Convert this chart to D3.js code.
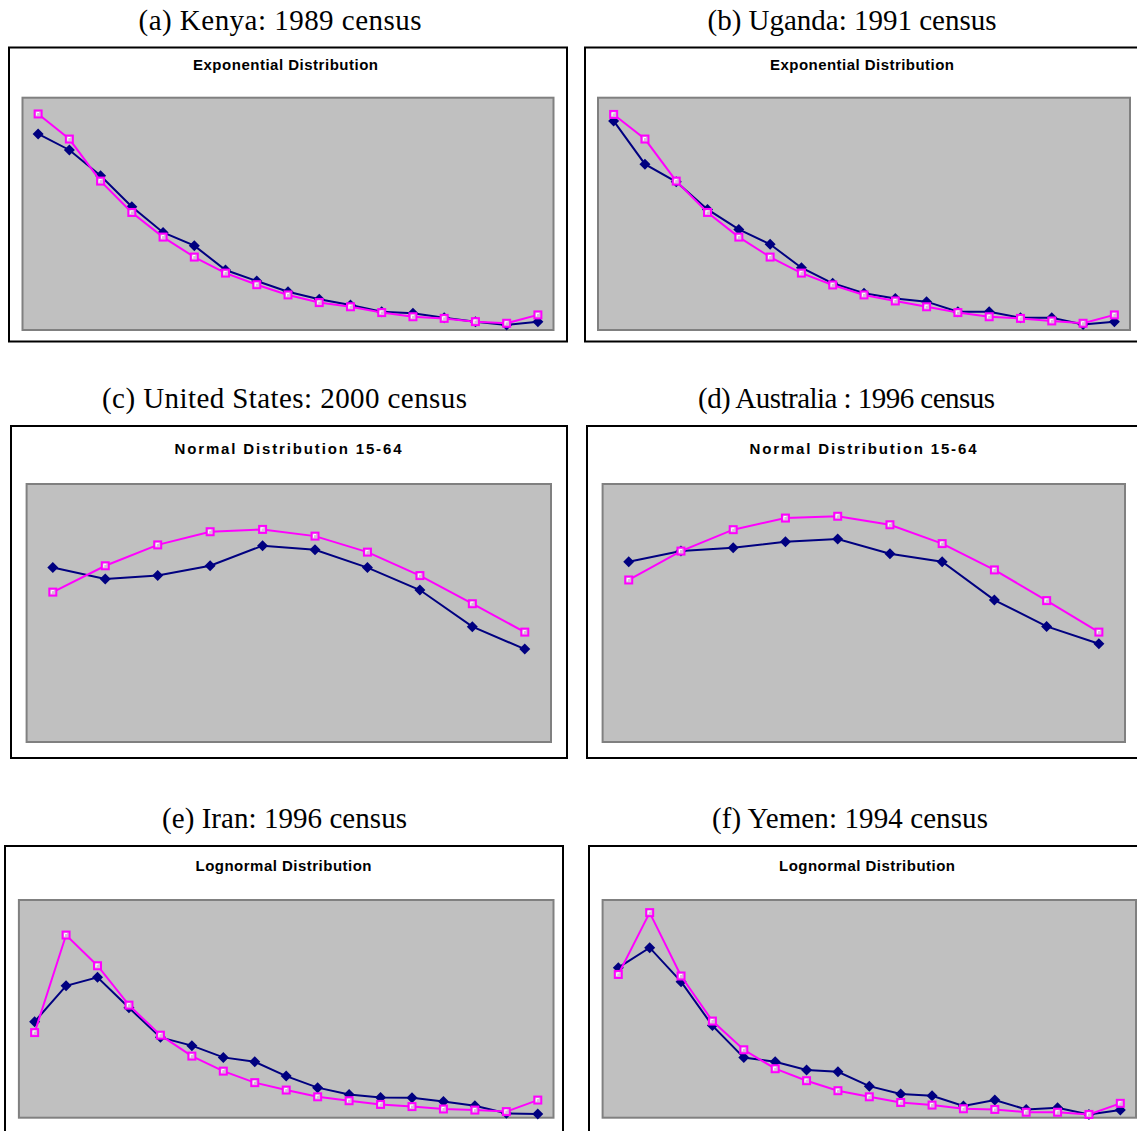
<!DOCTYPE html>
<html>
<head>
<meta charset="utf-8">
<script src="https://cdn.jsdelivr.net/npm/d3@7"></script>
<style>
  html, body { margin: 0; padding: 0; background: #ffffff; }
  svg { display: block; }
</style>
</head>
<body>
<svg id="chart" width="1137" height="1131"></svg>
<script>
// ---------------- DATA (y in % of plot height) ----------------
const panelCaptions = [
  "(a) Kenya: 1989 census",
  "(b) Uganda: 1991 census",
  "(c) United States: 2000 census",
  "(d) Australia : 1996 census",
  "(e) Iran: 1996 census",
  "(f) Yemen: 1994 census"
];
const chartTitles = [
  "Exponential Distribution",
  "Exponential Distribution",
  "Normal Distribution 15-64",
  "Normal Distribution 15-64",
  "Lognormal Distribution",
  "Lognormal Distribution"
];

// age groups
const ageGroupsAll = ["0-4","5-9","10-14","15-19","20-24","25-29","30-34","35-39","40-44",
                      "45-49","50-54","55-59","60-64","65-69","70-74","75-79","80+"];
const ageGroupsWorking = ["15-19","20-24","25-29","30-34","35-39","40-44","45-49","50-54","55-59","60-64"];

// (a) Kenya
const kenyaObserved = [84.4, 77.5, 66.4, 53.1, 42.0, 36.3, 25.8, 21.1, 16.5, 13.2, 10.8, 7.9, 7.2, 5.3, 3.6, 2.2, 3.6];
const kenyaFitted   = [93.0, 82.2, 64.1, 50.6, 40.0, 31.4, 24.5, 19.5, 15.1, 11.8, 10.0, 7.5, 5.7, 5.0, 3.6, 2.9, 6.5];
// (b) Uganda
const ugandaObserved = [90.0, 71.4, 63.8, 51.9, 43.3, 36.9, 26.8, 20.1, 15.8, 13.6, 12.2, 7.9, 7.9, 5.3, 5.3, 2.4, 3.6];
const ugandaFitted   = [92.8, 82.2, 64.1, 50.6, 40.0, 31.4, 24.5, 19.4, 15.1, 12.5, 10.0, 7.5, 5.7, 5.0, 3.9, 2.9, 6.5];
// (c) United States
const usObserved = [67.6, 63.2, 64.5, 68.3, 76.1, 74.5, 67.6, 58.9, 44.7, 36.0];
const usFitted   = [58.1, 68.3, 76.4, 81.5, 82.4, 79.8, 73.6, 64.5, 53.6, 42.6];
// (d) Australia
const ausObserved = [69.9, 74.0, 75.3, 77.6, 78.7, 73.0, 69.9, 55.0, 44.8, 38.1];
const ausFitted   = [62.8, 74.0, 82.3, 86.8, 87.5, 84.2, 76.9, 66.7, 54.8, 42.6];
// (e) Iran
const iranObserved = [44.1, 60.6, 64.5, 50.5, 36.9, 33.1, 27.7, 25.7, 19.1, 13.8, 10.7, 9.3, 9.2, 7.4, 5.5, 2.0, 1.7];
const iranFitted   = [39.1, 83.9, 69.8, 51.7, 37.9, 28.3, 21.4, 16.1, 12.7, 9.6, 7.8, 6.1, 5.1, 4.0, 3.5, 2.8, 8.1];
// (f) Yemen
const yemenObserved = [68.9, 78.1, 62.5, 42.3, 27.6, 25.7, 21.9, 21.1, 14.5, 10.9, 10.1, 5.4, 8.1, 3.8, 4.6, 1.5, 3.5];
const yemenFitted   = [65.8, 94.2, 65.1, 44.4, 31.2, 22.5, 17.0, 12.4, 9.6, 7.0, 5.8, 4.1, 3.8, 2.5, 2.5, 1.5, 6.6];

const yDomain = [0, 100];

// ---------------- LAYOUT ----------------
const layout = [
  { cat: ageGroupsAll, obs: kenyaObserved, fit: kenyaFitted,
    capX: 280, capY: 30, capW: 283,
    frame: [9, 47.5, 558, 294], plot: [22.5, 97.7, 553.5, 330], titleX: 285.5, titleY: 70, titleW: 185 },
  { cat: ageGroupsAll, obs: ugandaObserved, fit: ugandaFitted,
    capX: 852, capY: 30, capW: 289,
    frame: [585, 47.5, 600, 294], plot: [598, 97.7, 1130, 330], titleX: 862, titleY: 70, titleW: 184 },
  { cat: ageGroupsWorking, obs: usObserved, fit: usFitted,
    capX: 284.5, capY: 408, capW: 365,
    frame: [11, 426, 556, 332], plot: [26.6, 484, 551, 742], titleX: 288, titleY: 454, titleW: 227 },
  { cat: ageGroupsWorking, obs: ausObserved, fit: ausFitted,
    capX: 846.5, capY: 408, capW: 297,
    frame: [587, 426, 600, 332], plot: [602.6, 484, 1125, 742], titleX: 863, titleY: 454, titleW: 227 },
  { cat: ageGroupsAll, obs: iranObserved, fit: iranFitted,
    capX: 284.5, capY: 828, capW: 245,
    frame: [5, 846, 558, 400], plot: [18.9, 900, 553.5, 1117.7], titleX: 283.5, titleY: 871, titleW: 176 },
  { cat: ageGroupsAll, obs: yemenObserved, fit: yemenFitted,
    capX: 850, capY: 828, capW: 276,
    frame: [589, 846, 600, 400], plot: [602.6, 900, 1136, 1117.7], titleX: 867, titleY: 871, titleW: 176 }
];

const NAVY = "#000080", PINK = "#ff00ff";
const svg = d3.select("#chart");
svg.append("rect").attr("width", 1137).attr("height", 1131).attr("fill", "#fff");

layout.forEach((p, i) => {
  const g = svg.append("g");

  // caption
  g.append("text")
    .attr("x", p.capX).attr("y", p.capY)
    .attr("text-anchor", "middle")
    .attr("font-family", "'Liberation Serif', 'Times New Roman', serif")
    .attr("font-size", 29)
    .attr("textLength", p.capW).attr("lengthAdjust", "spacing")
    .attr("fill", "#000")
    .text(panelCaptions[i]);

  // frame
  g.append("rect")
    .attr("x", p.frame[0]).attr("y", p.frame[1])
    .attr("width", p.frame[2]).attr("height", p.frame[3])
    .attr("fill", "#fff").attr("stroke", "#000").attr("stroke-width", 2);

  // chart title
  g.append("text")
    .attr("x", p.titleX).attr("y", p.titleY)
    .attr("text-anchor", "middle")
    .attr("font-family", "'Liberation Sans', Arial, sans-serif")
    .attr("font-weight", "bold")
    .attr("font-size", 15)
    .attr("textLength", p.titleW).attr("lengthAdjust", "spacing")
    .attr("fill", "#000")
    .text(chartTitles[i]);

  const [x0, y0, x1, y1] = p.plot;
  // plot area
  g.append("rect")
    .attr("x", x0).attr("y", y0).attr("width", x1 - x0).attr("height", y1 - y0)
    .attr("fill", "#c0c0c0").attr("stroke", "#808080").attr("stroke-width", 2);

  const x = d3.scaleBand().domain(p.cat).range([x0, x1]).padding(0);
  const y = d3.scaleLinear().domain(yDomain).range([y1, y0]);
  const cx = d => x(d) + x.bandwidth() / 2;

  const line = d3.line().x(d => cx(d[0])).y(d => y(d[1]));
  const obsPts = p.cat.map((c, k) => [c, p.obs[k]]);
  const fitPts = p.cat.map((c, k) => [c, p.fit[k]]);

  // observed (navy, diamonds)
  g.append("path").datum(obsPts)
    .attr("d", line).attr("fill", "none").attr("stroke", NAVY).attr("stroke-width", 2);
  g.selectAll(null).data(obsPts).enter().append("path")
    .attr("d", d => {
      const px = cx(d[0]), py = y(d[1]), r = 5.5;
      return `M${px},${py - r}L${px + r},${py}L${px},${py + r}L${px - r},${py}Z`;
    })
    .attr("fill", NAVY);

  // fitted (magenta, squares)
  g.append("path").datum(fitPts)
    .attr("d", line).attr("fill", "none").attr("stroke", PINK).attr("stroke-width", 2);
  const sq = g.selectAll(null).data(fitPts).enter().append("g")
    .attr("transform", d => `translate(${cx(d[0])},${y(d[1])})`);
  sq.append("rect")
    .attr("x", -3.5).attr("y", -3.5).attr("width", 7).attr("height", 7)
    .attr("fill", "#d8b8d8").attr("stroke", PINK).attr("stroke-width", 2);
  sq.append("path")
    .attr("d", "M-1.5,1.5V-1.5H1")
    .attr("fill", "none").attr("stroke", "#ffffff").attr("stroke-width", 1);
});
</script>
</body>
</html>
